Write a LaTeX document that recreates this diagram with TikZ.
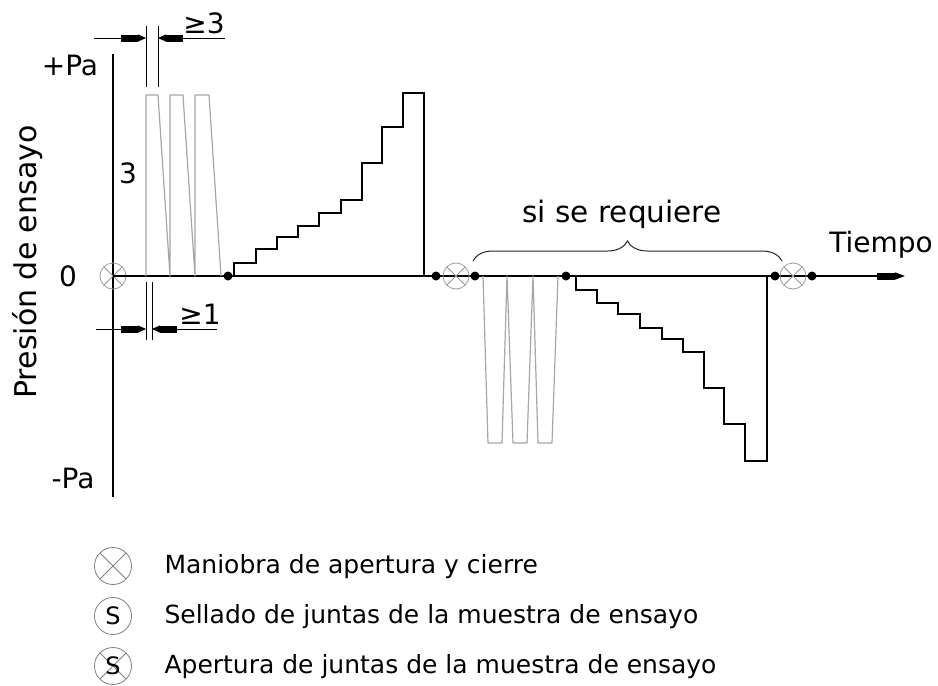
\documentclass[tikz,border=0pt]{standalone}
\usepackage{fontspec}
\setmainfont{DejaVu Sans}
\usetikzlibrary{arrows.meta,decorations.pathreplacing}
\begin{document}
\begin{tikzpicture}[x=1pt,y=-1pt,
  axisline/.style={line width=1.5pt,black},
  pulse/.style={line width=1.2pt,black!35,line join=round},
  stairs/.style={line width=1.5pt,black},
  thinline/.style={line width=1pt,black},
  dot/.style={circle,fill=black,inner sep=0pt,minimum size=9pt},
  xcross/.style={path picture={\draw[#1,line width=0.8pt]
     (path picture bounding box.south west) -- (path picture bounding box.north east)
     (path picture bounding box.north west) -- (path picture bounding box.south east);}},
  valve/.style={circle,draw=black!40,line width=0.8pt,minimum size=26pt,inner sep=0pt,xcross=black!40},
  legsym/.style={circle,draw=black!50,line width=0.8pt,minimum size=37pt,inner sep=0pt,font=\fontsize{24}{28}\selectfont},
  lab/.style={font=\fontsize{28}{32}\selectfont},
  leg/.style={font=\fontsize{25}{30}\selectfont,anchor=west},
  dimarrow/.style={line width=1pt,-{Rectangle[length=17pt,width=7pt,sep=0pt]Triangle[length=8pt,width=7pt,sep=0pt]}},
  axarrow/.style={-{Rectangle[length=18pt,width=7pt,sep=0pt]Triangle[length=10pt,width=7pt,sep=0pt]}}
]
\path[use as bounding box] (0,0) rectangle (938,686);

% axes
\coordinate (ytop) at (113,54);
\coordinate (ybot) at (113,497);
\coordinate (xend) at (905,276);
\draw[axisline] (ytop) -- (ybot);
\node[valve] (v0) at (113,276) {};
\draw[axisline,axarrow] (113,276) -- (xend);

% first pulses (gray)
\draw[pulse] (146,276) -- (146,95) -- (158,95) -- (170,276) -- (170,95) -- (183,95)
  -- (195,276) -- (195,95) -- (209,95) -- (221,276);

% rising stairs
\draw[stairs] (234,276) -- (234,263) -- (256,263) -- (256,249) -- (277,249) -- (277,237)
  -- (298,237) -- (298,226) -- (319,226) -- (319,213) -- (341,213) -- (341,200)
  -- (362,200) -- (362,163) -- (382,163) -- (382,127) -- (403,127) -- (403,93)
  -- (424,93) -- (424,276);

% negative pulses (gray)
\draw[pulse] (483,276) -- (488,443) -- (502,443) -- (507,276) -- (513,443) -- (527,443)
  -- (533,276) -- (538,443) -- (552,443) -- (558,276);

% falling stairs
\draw[stairs] (576,276) -- (576,290) -- (597,290) -- (597,303) -- (618,303) -- (618,314)
  -- (640,314) -- (640,328) -- (662,328) -- (662,339) -- (683,339) -- (683,352)
  -- (704,352) -- (704,388) -- (724,388) -- (724,424) -- (745,424) -- (745,461)
  -- (767,461) -- (767,276);

% valves and dots
\node[valve] (v1) at (456,276) {};
\node[valve] (v2) at (793,276) {};
\node[dot] (d1) at (228,276) {};
\node[dot] (d2) at (436,276) {};
\node[dot] (d3) at (475,276) {};
\node[dot] (d4) at (566,276) {};
\node[dot] (d5) at (775,276) {};
\node[dot] (d6) at (812,276) {};

% brace
\coordinate (bl) at (473,261);
\coordinate (br) at (782,261);
\draw[line width=1pt,black!85,decorate,decoration={brace,amplitude=20pt}] (bl) -- (br);

% dimensions
\coordinate (t1a) at (146,26); \coordinate (t1b) at (146,87);
\coordinate (t2a) at (158,26); \coordinate (t2b) at (158,87);
\coordinate (b1a) at (146,282); \coordinate (b1b) at (146,340);
\coordinate (b2a) at (152,282); \coordinate (b2b) at (152,340);
\draw[thinline] (t1a) -- (t1b) (t2a) -- (t2b) (b1a) -- (b1b) (b2a) -- (b2b);
\coordinate (dl1) at (94,38); \coordinate (dr1) at (225,38);
\coordinate (dl2) at (96,329); \coordinate (dr2) at (217,329);
\draw[dimarrow] (dl1) -- (146,38);
\draw[dimarrow] (dr1) -- (158,38);
\draw[dimarrow] (dl2) -- (146,329);
\draw[dimarrow] (dr2) -- (152,329);

% labels
\node[lab] (g3) at (204,23) {≥3};
\node[lab] (g1) at (200,314) {≥1};
\node[lab] (pp) at (70,65) {+Pa};
\node[lab] (mp) at (73,478) {-Pa};
\node[lab] (zero) at (68,276) {0};
\node[lab] (three) at (128,173) {3};
\node[lab,rotate=90,font=\fontsize{30}{34}\selectfont] (ylab) at (28,262) {Presión de ensayo};
\node[lab] (tiempo) at (881,245) {Tiempo};
\node[lab,font=\fontsize{29.5}{34}\selectfont] (si) at (622,214) {si se requiere};

% legend
\node[legsym,xcross=black!50] (l1) at (113,566) {};
\node[legsym] (l2) at (113,616) {S};
\node[legsym,xcross=black!50] (l3) at (113,666) {S};
\node[leg] (t1) at (161,567) {Maniobra de apertura y cierre};
\node[leg] (t2) at (161,617) {Sellado de juntas de la muestra de ensayo};
\node[leg] (t3) at (161,667) {Apertura de juntas de la muestra de ensayo};
\end{tikzpicture}
\end{document}
